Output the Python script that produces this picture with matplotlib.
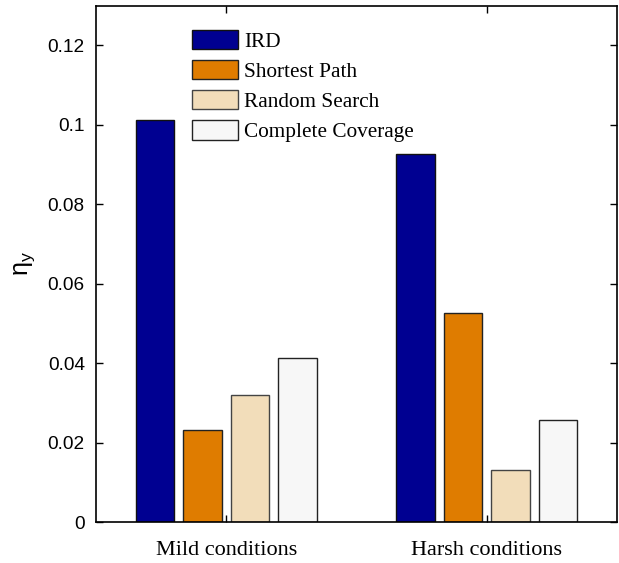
import numpy as np
import matplotlib
matplotlib.use("Agg")
import matplotlib.pyplot as plt

# Données
conditions = ["Mild conditions", "Harsh conditions"]
methodes = ["IRD", "Shortest Path", "Random Search", "Complete Coverage"]
ird = [0.1012, 0.0926]
shortest = [0.0231, 0.0526]
random_search = [0.0321, 0.0132]
coverage = [0.0414, 0.0256]

couleurs = ["#000091", "#DF7C00", "#F2DDBA", "#F7F7F7"]
bords = ["#111111", "#222222", "#444444", "#222222"]

plt.rcParams["font.family"] = ["Liberation Sans", "DejaVu Sans"]

fig = plt.figure(figsize=(6.19, 5.63), dpi=100)
ax = fig.add_axes([0.155, 0.0728, 0.842, 0.9172])

x = np.arange(1, len(conditions) + 1)
largeur = 0.148
decalages = [-0.273, -0.091, 0.091, 0.273]
series = [ird, shortest, random_search, coverage]

for i in range(len(methodes)):
    ax.bar(x + decalages[i], series[i], largeur, color=couleurs[i],
           edgecolor=bords[i], linewidth=1.0, label=methodes[i], zorder=2)

ax.set_xlim(0.5, 2.5)
ax.set_ylim(0, 0.13)
ax.set_xticks(x)
ax.set_xticklabels(conditions, family=["Liberation Serif", "DejaVu Serif"], fontsize=16)
ax.set_yticks([0, 0.02, 0.04, 0.06, 0.08, 0.1, 0.12])
ax.set_yticklabels(["0", "0.02", "0.04", "0.06", "0.08", "0.1", "0.12"], fontsize=13.7)
ax.tick_params(direction="in", top=True, right=True, length=5, width=1)
ax.tick_params(axis="x", pad=14)
ax.tick_params(axis="y", pad=8)
for s in ax.spines.values():
    s.set_linewidth(1.2)

ax.set_ylabel(r"$\mathregular{\eta_y}$", fontsize=18, labelpad=8)

ax.legend(loc="upper left", bbox_to_anchor=(0.1837, 0.9535), frameon=False,
          prop={"family": ["Liberation Serif", "DejaVu Serif"], "size": 15.3},
          borderpad=0, borderaxespad=0, handlelength=2.2, handleheight=1.04,
          labelspacing=0.38, handletextpad=0.28)

fig.savefig("out.png", dpi=100)
